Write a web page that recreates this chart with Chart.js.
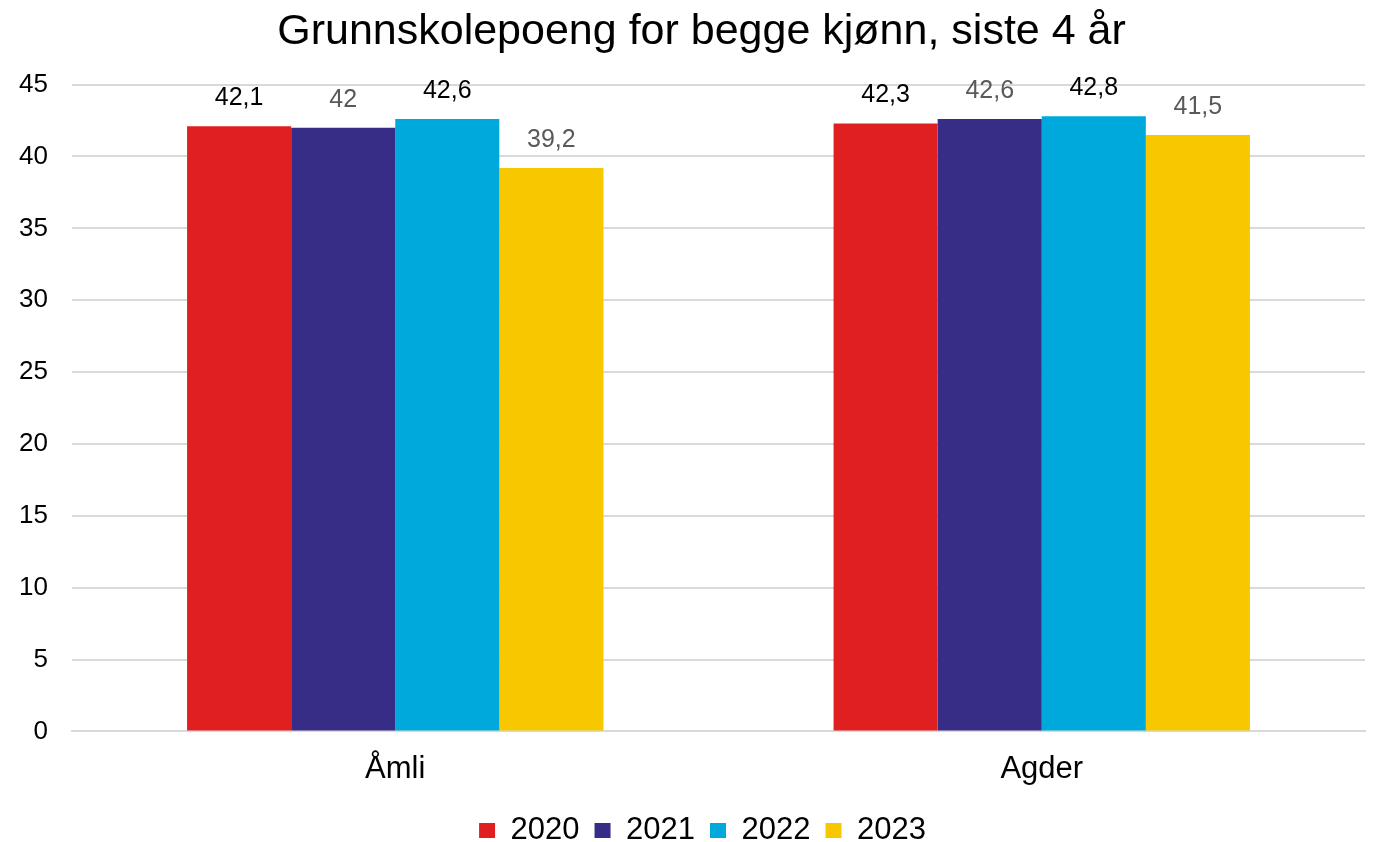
<!DOCTYPE html>
<html>
<head>
<meta charset="utf-8">
<script src="https://cdn.jsdelivr.net/npm/chart.js@4/dist/chart.umd.min.js"></script>
<style>
  html, body { margin: 0; padding: 0; background: #fff; }
  #wrap { width: 1373px; height: 842px; }
</style>
</head>
<body>
<div id="wrap"><canvas id="chart"></canvas></div>
<script>
const categories = ["Åmli", "Agder"];
const years = ["2020", "2021", "2022", "2023"];
const values2020 = [42.1, 42.3];
const values2021 = [42, 42.6];
const values2022 = [42.6, 42.8];
const values2023 = [39.2, 41.5];
const yTicks = [0, 5, 10, 15, 20, 25, 30, 35, 40, 45];

const colors = ["#E02020", "#372C86", "#00A9DB", "#F7C700"];
const labelColors = ["#000000", "#595959", "#000000", "#595959"];
const FONT = "Liberation Sans, Arial, sans-serif";

// draws the value above each bar, with decimal comma
const valueLabels = {
    id: "valueLabels",
    afterDatasetsDraw(chart) {
        const ctx = chart.ctx;
        ctx.save();
        ctx.font = "25px " + FONT;
        ctx.textAlign = "center";
        ctx.textBaseline = "middle";
        chart.data.datasets.forEach((ds, i) => {
            const meta = chart.getDatasetMeta(i);
            meta.data.forEach((bar, j) => {
                ctx.fillStyle = labelColors[i];
                ctx.fillText(String(ds.data[j]).replace(".", ","), bar.x, bar.y - 28);
            });
        });
        ctx.restore();
    }
};

// title and legend sit a bit right of the canvas centre in the original
const nudge = {
    id: "nudge",
    afterLayout(chart) {
        chart.titleBlock.left += 19;
        chart.titleBlock.right += 19;
        chart.legend.left += 20;
        chart.legend.right += 20;
    }
};

const seriesValues = [values2020, values2021, values2022, values2023];

new Chart(document.getElementById("chart"), {
    type: "bar",
    data: {
        labels: categories,
        datasets: years.map((y, i) => ({
            label: y,
            data: seriesValues[i],
            backgroundColor: colors[i],
            borderWidth: 0,
            categoryPercentage: 0.644,
            barPercentage: 1.0
        }))
    },
    options: {
        responsive: true,
        maintainAspectRatio: false,
        animation: false,
        layout: { padding: { left: 0, right: 8, top: 0, bottom: -14 } },
        plugins: {
            title: {
                display: true,
                text: "Grunnskolepoeng for begge kjønn, siste 4 år",
                color: "#000",
                font: { family: FONT, size: 43, weight: "normal" },
                padding: { top: 6, bottom: 27 }
            },
            legend: {
                position: "bottom",
                labels: {
                    color: "#000",
                    font: { family: FONT, size: 31 },
                    boxWidth: 16,
                    boxHeight: 15,
                    padding: 15
                }
            },
            tooltip: { enabled: false }
        },
        scales: {
            x: {
                grid: { display: false, drawTicks: false },
                border: { display: true, color: "#D9D9D9", width: 2 },
                afterFit(axis) { axis.height -= 7; },
                ticks: {
                    color: "#000",
                    font: { family: FONT, size: 31, lineHeight: 1.6 },
                    padding: 13
                }
            },
            y: {
                min: 0,
                max: 45,
                afterBuildTicks(axis) {
                    axis.ticks = yTicks.map(v => ({ value: v }));
                },
                afterFit(axis) { axis.width = 72; },
                grid: { color: "#D9D9D9", lineWidth: 2, drawTicks: false },
                border: { display: false },
                ticks: {
                    color: "#000",
                    font: { family: FONT, size: 26 },
                    padding: 24
                }
            }
        }
    },
    plugins: [valueLabels, nudge]
});
</script>
</body>
</html>
